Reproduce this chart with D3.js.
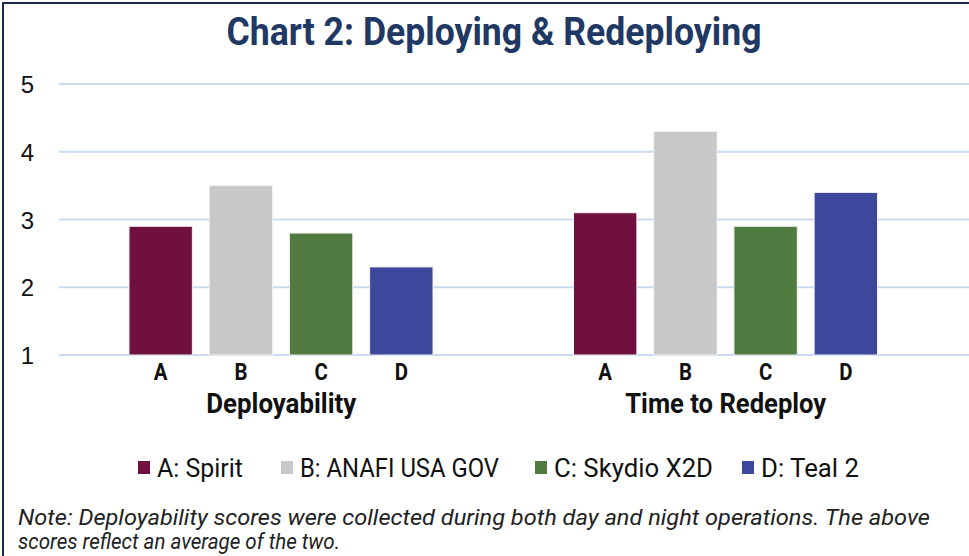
<!DOCTYPE html>
<html>
<head>
<meta charset="utf-8">
<script src="https://cdn.jsdelivr.net/npm/d3@7"></script>
<style>
  body { margin: 0; background: #fff; }
  .narrow { font-family: "Liberation Sans Narrow", "Roboto", sans-serif; }
</style>
</head>
<body>
<div id="chart"></div>
<script>
// data
var groups = ["Deployability", "Time to Redeploy"];
var seriesKeys = ["A", "B", "C", "D"];
var seriesNames = ["A: Spirit", "B: ANAFI USA GOV", "C: Skydio X2D", "D: Teal 2"];
var deployability = [2.9, 3.5, 2.8, 2.3];
var timeToRedeploy = [3.1, 4.3, 2.9, 3.4];
var yTicks = [1, 2, 3, 4, 5];
var colors = ["#701040", "#c8c8c8", "#507a3f", "#3d479b"];

var W = 969, H = 556;
var values = [deployability, timeToRedeploy];

var svg = d3.select("#chart")
  .append("svg")
    .attr("width", W)
    .attr("height", H);

// frame
svg.append("rect")
  .attr("x", 3).attr("y", 3)
  .attr("width", W + 10).attr("height", H + 10)
  .attr("fill", "none")
  .attr("stroke", "#1a2b4c")
  .attr("stroke-width", 2);

// title
svg.append("text")
  .attr("class", "narrow")
  .attr("x", 494).attr("y", 45)
  .attr("text-anchor", "middle")
  .attr("font-size", 38)
  .attr("font-weight", "bold")
  .attr("fill", "#1f3864")
  .attr("textLength", 535)
  .attr("lengthAdjust", "spacingAndGlyphs")
  .text("Chart 2: Deploying & Redeploying");

// scales
var y = d3.scaleLinear().domain([1, 5]).range([355, 84]);
var x0 = d3.scaleBand().domain(groups).range([59, 948]);
var x1 = d3.scaleBand().domain(seriesKeys).range([70, 374]).paddingInner(0.21);

// gridlines
svg.append("g")
  .selectAll("line")
  .data(yTicks)
  .enter()
  .append("line")
    .attr("x1", 59).attr("x2", W)
    .attr("y1", d => y(d)).attr("y2", d => y(d))
    .attr("stroke", "#c9daf1")
    .attr("stroke-width", 2);

// y axis labels
var yAxis = svg.append("g")
  .attr("transform", "translate(34,0)")
  .call(d3.axisLeft(y).tickValues(yTicks).tickFormat(d3.format("d")).tickSize(0).tickPadding(0));
yAxis.select(".domain").remove();
yAxis.selectAll("text")
  .style("font-family", "'Liberation Sans', Arial, sans-serif")
  .style("font-size", "24px")
  .attr("fill", "#111")
  .attr("dy", "0.36em");

// bars
var gGroups = svg.append("g")
  .selectAll("g")
  .data(groups)
  .enter()
  .append("g")
    .attr("transform", d => "translate(" + x0(d) + ",0)");

gGroups.selectAll("rect")
  .data((d, i) => values[i].map((v, j) => ({key: seriesKeys[j], value: v, idx: j})))
  .enter()
  .append("rect")
    .attr("x", d => x1(d.key))
    .attr("y", d => y(d.value))
    .attr("width", x1.bandwidth())
    .attr("height", d => y(1) - y(d.value))
    .attr("fill", d => colors[d.idx])
    .attr("stroke", "#f2f2f2")
    .attr("stroke-width", 1);

// category labels
gGroups.selectAll("text.cat")
  .data(seriesKeys)
  .enter()
  .append("text")
    .attr("class", "cat narrow")
    .attr("x", d => x1(d) + x1.bandwidth() / 2)
    .attr("y", 380)
    .attr("text-anchor", "middle")
    .attr("font-size", 24)
    .attr("font-weight", "bold")
    .attr("fill", "#111")
    .attr("transform", d => "translate(" + (x1(d) + x1.bandwidth() / 2) + ",0) scale(0.85,1) translate(" + -(x1(d) + x1.bandwidth() / 2) + ",0)")
    .text(d => d);

// group labels
var groupWidths = [150, 201];
gGroups.append("text")
  .attr("class", "narrow")
  .attr("x", x0.bandwidth() / 2)
  .attr("y", 413)
  .attr("text-anchor", "middle")
  .attr("font-size", 27)
  .attr("font-weight", "bold")
  .attr("fill", "#111")
  .attr("textLength", (d, i) => groupWidths[i])
  .attr("lengthAdjust", "spacingAndGlyphs")
  .text(d => d);

// legend
var legendX = [138, 281, 535, 742];
var legendW = [86, 199, 159, 98];
var legend = svg.append("g")
  .selectAll("g")
  .data(seriesNames)
  .enter()
  .append("g")
    .attr("transform", (d, i) => "translate(" + legendX[i] + ",461)");
legend.append("rect")
  .attr("width", 12).attr("height", 13)
  .attr("fill", (d, i) => colors[i]);
legend.append("text")
  .attr("class", "narrow")
  .attr("x", 19).attr("y", 16)
  .attr("font-size", 25)
  .attr("fill", "#111")
  .attr("textLength", (d, i) => legendW[i])
  .attr("lengthAdjust", "spacingAndGlyphs")
  .text(d => d);

// note
var noteLines = ["Note: Deployability scores were collected during both day and night operations. The above",
                 "scores reflect an average of the two."];
var noteW = [912, 322];
svg.append("g")
  .selectAll("text")
  .data(noteLines)
  .enter()
  .append("text")
    .attr("class", "narrow")
    .attr("x", 18)
    .attr("y", (d, i) => 525 + i * 24)
    .attr("font-size", 22)
    .attr("font-style", "italic")
    .attr("fill", "#222")
    .attr("textLength", (d, i) => noteW[i])
    .attr("lengthAdjust", "spacingAndGlyphs")
    .text(d => d);
</script>
</body>
</html>
